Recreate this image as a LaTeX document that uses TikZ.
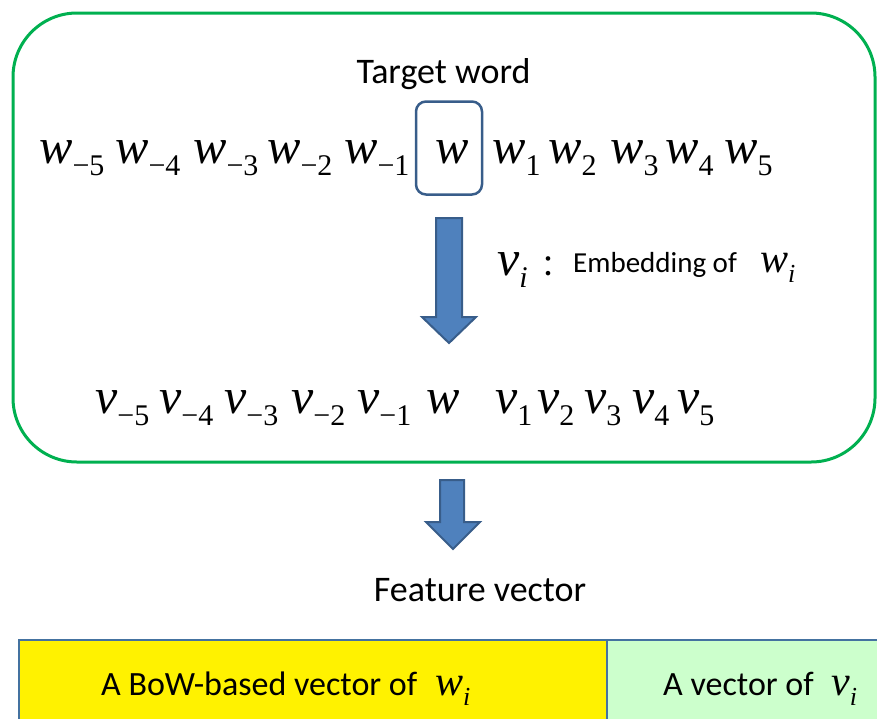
\documentclass[tikz,border=0pt]{standalone}
\usepackage{fontspec}
\setmainfont{Carlito}
\newfontfamily\tnr{Liberation Serif}
\newfontfamily\cjk{Noto Sans CJK JP}
\definecolor{framegreen}{RGB}{0,176,80}
\definecolor{boxblue}{RGB}{56,93,138}
\definecolor{arrowfill}{RGB}{79,129,189}
\definecolor{barblue}{RGB}{68,114,160}
\definecolor{palegreen}{RGB}{204,255,204}
\newcommand\bigsym[2]{{\tnr\fontsize{50}{50}\selectfont\itshape #1}\raisebox{-12pt}{\tnr\fontsize{30}{30}\selectfont #2}}
\newcommand\smallsym[2]{{\tnr\fontsize{42}{42}\selectfont\itshape #1}\raisebox{-10pt}{\tnr\fontsize{26}{26}\selectfont #2}}
\tikzset{
  tok/.style={anchor=base west, inner sep=0},
  label/.style={anchor=base, inner sep=0, font=\fontsize{36}{36}\selectfont},
  bigarrow/.style={fill=arrowfill, draw=boxblue, line width=2pt, line join=miter},
  bar/.style={draw=barblue, line width=2.5pt}
}
\begin{document}
\begin{tikzpicture}[x=1pt,y=-1pt]
\useasboundingbox (0,0) rectangle (877,718);
\clip (0,0) rectangle (877,718);
% window of words
\draw[framegreen, line width=3pt, rounded corners=64] (13,13) rectangle (875,462);
\node[label] (target) at (443.5,83) {Target word};
\foreach \n/\x in {5/39,4/115,3/193,2/267,1/344}
  \node[tok] (wm\n) at (\x,163) {\bigsym{w}{−\n}};
\node[tok] (w0) at (435,163) {\bigsym{w}{}};
\node[draw=boxblue, line width=2.5pt, rounded corners=10, minimum width=66, minimum height=93, inner sep=0] (tgt) at (449,148) {};
\foreach \n/\x in {1/492,2/548,3/610,4/665,5/724}
  \node[tok] (wp\n) at (\x,163) {\bigsym{w}{\n}};
% embedding step
\draw[bigarrow] (436,218) -- ++(26,0) -- ++(0,99) -- ++(14,0) -- ++(-27,26) -- ++(-27,-26) -- ++(14,0) -- cycle;
\node[tok] (vi) at (497,275) {\bigsym{v}{\itshape i}};
\node[inner sep=0, font=\cjk\fontsize{30}{30}\selectfont] (colon) at (548,267) {：};
\node[tok, font=\fontsize{29}{29}\selectfont] (emb) at (573,272) {Embedding of};
\node[tok] (wi) at (760,272) {\smallsym{w}{\itshape i}};
\foreach \n/\x in {5/95,4/159,3/224,2/291,1/357}
  \node[tok] (vm\n) at (\x,413) {\bigsym{v}{−\n}};
\node[tok] (v0) at (426,413) {\bigsym{w}{}};
\foreach \n/\x in {1/495,2/537,3/584,4/632,5/677}
  \node[tok] (vp\n) at (\x,413) {\bigsym{v}{\n}};
% feature vector
\draw[bigarrow] (440,480) -- ++(24,0) -- ++(0,42) -- ++(16,0) -- ++(-27,27) -- ++(-27,-27) -- ++(14,0) -- cycle;
\node[label] (feat) at (480,601) {Feature vector};
\draw[bar, fill=yellow] (19,640) rectangle (607,730);
\draw[bar, fill=palegreen] (607,640) rectangle (895,730);
\node[tok, font=\fontsize{34}{34}\selectfont] (bow) at (101,695) {A BoW-based vector of};
\node[tok] (bowwi) at (435,695) {\smallsym{w}{\itshape i}};
\node[tok, font=\fontsize{34}{34}\selectfont] (vec) at (663,695) {A vector of};
\node[tok] (vecvi) at (831,695) {\smallsym{v}{\itshape i}};
\end{tikzpicture}
\end{document}
